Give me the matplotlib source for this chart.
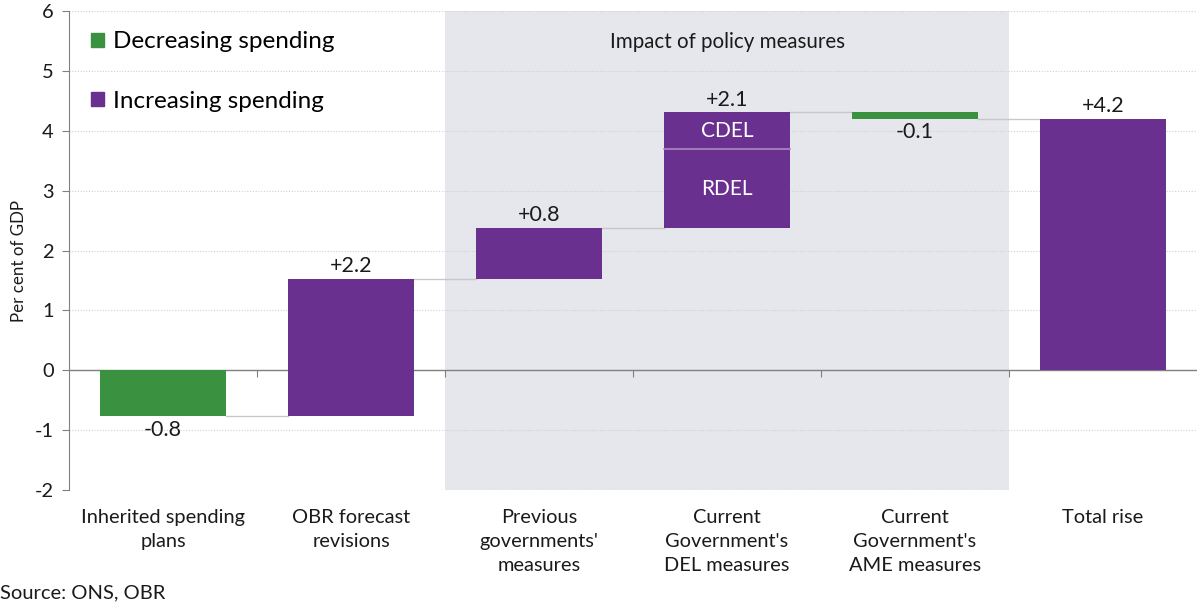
import matplotlib
matplotlib.use("Agg")
import matplotlib.pyplot as plt
from matplotlib.patches import Patch
import numpy as np

categories = ["Inherited spending\nplans", "OBR forecast\nrevisions", "Previous\ngovernments'\nmeasures",
              "Current\nGovernment's\nDEL measures", "Current\nGovernment's\nAME measures", "Total rise"]
changes = [-0.77, 2.30, 0.85, None, -0.11]
rdel = 1.31
cdel = 0.62
total = 4.20
value_labels = ["-0.8", "+2.2", "+0.8", "+2.1", "-0.1", "+4.2"]

GREEN = "#3a9240"
PURPLE = "#6a3090"
GRID = "#d0d0d0"
TEXT = "#1a1a1a"

plt.rcParams['font.family'] = ['Lato', 'DejaVu Sans']

fig = plt.figure(figsize=(12, 6.11), dpi=100)
ax = fig.add_axes([0.0575, 0.198, 0.94, 0.784])

x = np.arange(len(categories))
w = 0.67
VFS = 15.5

# shaded policy region
ax.axvspan(1.5, 4.5, color="#e6e7ec", zorder=0, lw=0)
ax.text(3, 5.48, "Impact of policy measures", ha="center", va="center", fontsize=14.8, color=TEXT)

# gridlines
for yv in range(-2, 7):
    ax.axhline(yv, color=GRID, lw=0.8, ls=(0, (1, 1.5)), zorder=0.5)

level = 0.0
# bar 0
b0 = changes[0]
ax.bar(x[0], b0, bottom=level, width=w, color=GREEN, zorder=2)
ax.text(x[0], level + b0 - 0.06, value_labels[0], ha="center", va="top", fontsize=VFS, color=TEXT)
level += b0
ends = [level]
# bar 1
b1 = changes[1]
ax.bar(x[1], b1, bottom=level, width=w, color=PURPLE, zorder=2)
ax.text(x[1], level + b1 + 0.04, value_labels[1], ha="center", va="bottom", fontsize=VFS, color=TEXT)
level += b1
ends.append(level)
# bar 2
b2 = changes[2]
ax.bar(x[2], b2, bottom=level, width=w, color=PURPLE, zorder=2)
ax.text(x[2], level + b2 + 0.04, value_labels[2], ha="center", va="bottom", fontsize=VFS, color=TEXT)
level += b2
ends.append(level)
# bar 3 stacked RDEL / CDEL
ax.bar(x[3], rdel, bottom=level, width=w, color=PURPLE, zorder=2)
ax.text(x[3], level + rdel / 2, "RDEL", ha="center", va="center", fontsize=15, color="white", zorder=3)
ax.bar(x[3], cdel, bottom=level + rdel, width=w, color=PURPLE, zorder=2)
ax.plot([x[3] - w / 2, x[3] + w / 2], [level + rdel, level + rdel], color="#a88bc0", lw=1.2, zorder=3)
ax.text(x[3], level + rdel + cdel / 2, "CDEL", ha="center", va="center", fontsize=15, color="white", zorder=3)
ax.text(x[3], level + rdel + cdel + 0.04, value_labels[3], ha="center", va="bottom", fontsize=VFS, color=TEXT)
level += rdel + cdel
ends.append(level)
# bar 4
b4 = changes[4]
ax.bar(x[4], b4, bottom=level, width=w, color=GREEN, zorder=2)
ax.text(x[4], level + b4 - 0.06, value_labels[4], ha="center", va="top", fontsize=VFS, color=TEXT)
level += b4
ends.append(level)
# bar 5 total
ax.bar(x[5], total, bottom=0, width=w, color=PURPLE, zorder=2)
ax.text(x[5], total + 0.04, value_labels[5], ha="center", va="bottom", fontsize=VFS, color=TEXT)

# connectors
for i, e in enumerate(ends):
    ax.plot([x[i] + w / 2, x[i + 1] - w / 2], [e, e], color="#c8c8c8", lw=1, zorder=1)

ax.set_xlim(-0.5, 5.5)
ax.set_ylim(-2, 6)
ax.set_yticks(range(-2, 7))
ax.set_yticklabels([str(v) for v in range(-2, 7)], fontsize=14.4, color=TEXT)
ax.set_xticks(x)
ax.set_xticklabels(categories, fontsize=14.4, color=TEXT, linespacing=1.5)
ax.tick_params(axis="x", length=0, pad=14)
ax.tick_params(axis="y", length=5, color="#808080", pad=6)

for s in ["top", "right", "bottom"]:
    ax.spines[s].set_visible(False)
ax.spines["left"].set_color("#808080")

# zero axis with boundary ticks
ax.axhline(0, color="#808080", lw=1, zorder=1.5)
sec = ax.secondary_xaxis(0, transform=ax.transData)
sec.set_xticks(np.arange(0.5, 5.5, 1.0))
sec.set_xticklabels([])
sec.tick_params(length=5, color="#808080")
sec.spines["bottom"].set_visible(False)

ax.set_ylabel("Per cent of GDP", fontsize=12.2, color=TEXT)
ax.yaxis.set_label_coords(-0.037, 0.478)

handles = [Patch(color=GREEN), Patch(color=PURPLE)]
ax.legend(handles, ["Decreasing spending", "Increasing spending"], loc="upper left",
          bbox_to_anchor=(0.0, 1.003), frameon=False, fontsize=17.5, handlelength=0.55,
          handleheight=0.55, handletextpad=0.35, labelspacing=1.57)

fig.text(0.0, 0.015, "Source: ONS, OBR", fontsize=14.5, color=TEXT, ha="left", va="bottom")

fig.savefig("out.png", dpi=100)
